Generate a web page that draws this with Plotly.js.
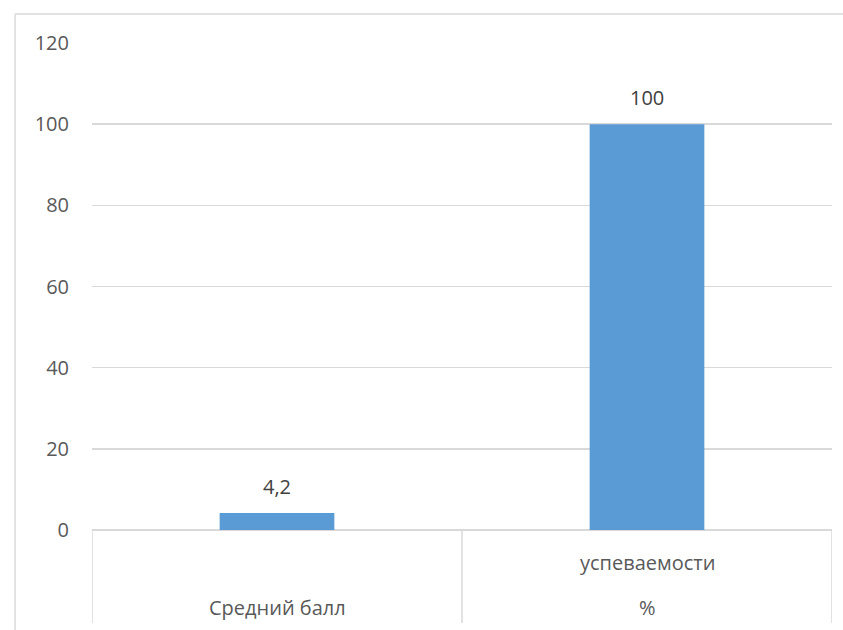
<!DOCTYPE html>
<html>
<head>
<meta charset="utf-8">
<script src="https://cdn.plot.ly/plotly-3.0.1.min.js"></script>
<style>html,body{margin:0;padding:0;background:#fff;}#chart{width:843px;height:630px;}</style>
</head>
<body>
<div id="chart"></div>
<script>
const categories = ["Средний балл", "успеваемости %"];
const categoryLines = [["Средний балл"], ["успеваемости", "%"]];
const values = [4.2, 100];
const valueLabels = ["4,2", "100"];
const yTicks = [0, 20, 40, 60, 80, 100, 120];

const FONT = "Open Sans, Liberation Sans, sans-serif";
const TXT = "#595959";
const GRID = "#d9d9d9";
const FS = 20;

const trace = {
  type: "bar",
  x: categories,
  y: values,
  marker: {color: "#5b9bd5"},
  width: 0.31,
  hoverinfo: "none"
};

const shapes = [];
[-0.5, 0.5, 1.5].forEach(v => {
  shapes.push({type: "line", xref: "x", yref: "paper", x0: v, x1: v, y0: 0, y1: -0.191,
    line: {color: GRID, width: 1.5}});
});
shapes.push({type: "line", xref: "paper", yref: "paper", x0: -0.104, x1: -0.104, y0: 1.0595, y1: -0.3,
  line: {color: GRID, width: 1.5}});
shapes.push({type: "line", xref: "paper", yref: "paper", x0: -0.104, x1: 1.05, y0: 1.0595, y1: 1.0595,
  line: {color: GRID, width: 1.5}});

const annotations = [];
categoryLines.forEach((lines, i) => {
  const n = lines.length;
  lines.forEach((t, j) => {
    const fromBottom = n - 1 - j;
    annotations.push({
      x: categories[i], xref: "x", yref: "paper",
      y: -0.159 + fromBottom * 0.0924,
      text: t, showarrow: false,
      font: {family: FONT, size: FS, color: TXT},
      xanchor: "center", yanchor: "middle"
    });
  });
});
values.forEach((v, i) => {
  annotations.push({
    x: categories[i], y: v, xref: "x", yref: "y",
    text: valueLabels[i], showarrow: false,
    font: {family: FONT, size: FS, color: "#404040"},
    xanchor: "center", yanchor: "bottom", yshift: 11
  });
});

const layout = {
  width: 843, height: 630,
  margin: {l: 92, r: 11, t: 43, b: 100, pad: 0},
  paper_bgcolor: "#ffffff",
  plot_bgcolor: "#ffffff",
  showlegend: false,
  xaxis: {
    type: "category",
    range: [-0.5, 1.5],
    showticklabels: false,
    showgrid: false,
    zeroline: false,
    showline: false,
    fixedrange: true
  },
  yaxis: {
    range: [0, 120],
    tickvals: yTicks,
    ticktext: yTicks.map(String),
    showgrid: true,
    gridcolor: GRID,
    gridwidth: 1.5,
    zeroline: true,
    zerolinecolor: GRID,
    zerolinewidth: 1.5,
    showline: false,
    ticks: "",
    ticklabelstandoff: 22,
    tickfont: {family: FONT, size: FS, color: TXT},
    fixedrange: true
  },
  shapes: shapes,
  annotations: annotations
};

Plotly.newPlot("chart", [trace], layout, {displayModeBar: false, staticPlot: true});
</script>
</body>
</html>
